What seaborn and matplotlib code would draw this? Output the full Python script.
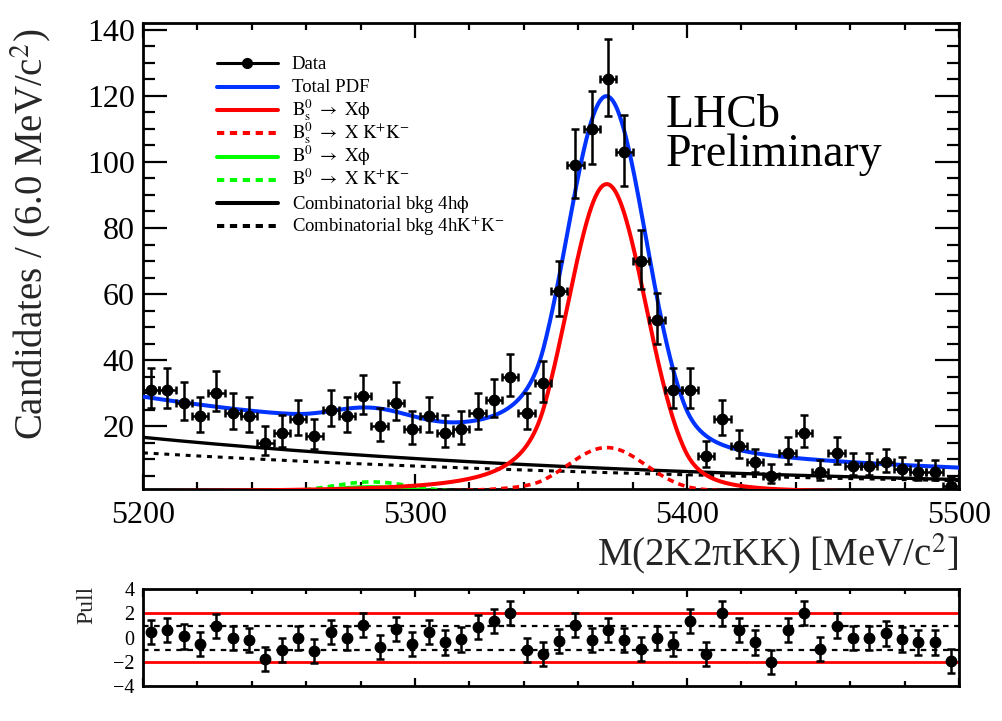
import numpy as np
import pandas as pd
import matplotlib
matplotlib.use("Agg")
import matplotlib.pyplot as plt
import seaborn as sns
from matplotlib.lines import Line2D
from matplotlib.ticker import MultipleLocator, FixedLocator, NullFormatter

# ---------------- data ----------------
mass_min, mass_max, bin_width = 5200.0, 5500.0, 6.0
counts = [31, 31, 27, 23, 30, 24, 23, 15, 18, 22,
          17, 25, 23, 29, 20, 27, 19, 23, 18, 19,
          24, 28, 35, 24, 33, 61, 99, 110, 125, 103,
          70, 52, 31, 31, 11, 22, 14, 9, 5, 12,
          18, 6, 12, 8, 8, 9, 7, 6, 6, 2]
pulls = [0.5, 0.65, 0.1, -0.5, 0.95, 0.0, -0.2, -1.75, -1.0, -0.05,
         -1.1, 0.45, -0.05, 1.05, -0.75, 0.7, -0.55, 0.5, -0.4, -0.15,
         0.85, 1.35, 2.05, -1.0, -1.35, -0.25, 1.05, -0.2, 0.65, -0.2,
         -0.95, -0.05, -0.5, 1.4, -1.35, 2.0, 0.65, -0.4, -2.0, 0.65,
         2.05, -0.95, 1.0, -0.05, -0.05, 0.35, -0.15, -0.4, -0.4, -1.95]
x_ticks = [5200, 5300, 5400, 5500]
y_ticks = [20, 40, 60, 80, 100, 120, 140]
pull_ticks = [-4, -2, 0, 2, 4]

# fit-model parameters (peak heights in candidates/bin)
mu_bs = 5370.5
mu_b0 = 5284.0
sigma_peak = 14.4
tail_left = (1.6, 2.0)
tail_right = (2.0, 2.5)
peak_bs_phi = 93.3
peak_bs_kk = 13.5
peak_b0_phi = 1.6
peak_b0_kk = 3.1
comb_phi = (16.6, 0.0049)   # value at 5200, slope
comb_kk = (11.9, 0.0041)

legend_labels = [
    "Data",
    "Total PDF",
    r"$\mathrm{B_s^0\ \rightarrow\ X\phi}$",
    r"$\mathrm{B_s^0\ \rightarrow\ X\ K^{+}K^{-}}$",
    r"$\mathrm{B^0\ \rightarrow\ X\phi}$",
    r"$\mathrm{B^0\ \rightarrow\ X\ K^{+}K^{-}}$",
    r"Combinatorial bkg 4h$\mathrm{\phi}$",
    r"Combinatorial bkg 4hK$^{+}$K$^{-}$",
]

# ---------------- style ----------------
sns.set_theme(style="ticks")
plt.rcParams["font.family"] = ["Liberation Serif", "DejaVu Serif"]
plt.rcParams["mathtext.fontset"] = "stix"
plt.rcParams["axes.unicode_minus"] = True

W, H = 1003, 721
fig = plt.figure(figsize=(W / 100, H / 100), dpi=100)
fig.patch.set_facecolor("white")

def fx(px):
    return px / W

def fy(py):
    return 1 - py / H

ax = fig.add_axes([fx(143), fy(488.5), fx(959) - fx(143), fy(23.3) - fy(488.5)])
axp = fig.add_axes([fx(143), fy(686), fx(959) - fx(143), fy(589.3) - fy(686)])
for a in (ax, axp):
    a.set_facecolor("white")
    for s in a.spines.values():
        s.set_linewidth(2.0)
        s.set_color("black")

# ---------------- model ----------------
def peak_shape(m, mu):
    t = (m - mu) / sigma_peak
    out = np.exp(-0.5 * t * t)
    aL, nL = tail_left
    aR, nR = tail_right
    AL = (nL / aL) ** nL * np.exp(-0.5 * aL * aL)
    BL = nL / aL - aL
    AR = (nR / aR) ** nR * np.exp(-0.5 * aR * aR)
    BR = nR / aR - aR
    l = t < -aL
    r = t > aR
    out[l] = AL * (BL - t[l]) ** (-nL)
    out[r] = AR * (BR + t[r]) ** (-nR)
    return out

m = np.linspace(mass_min, mass_max, 1201)
c_bs_phi = peak_bs_phi * peak_shape(m, mu_bs)
c_bs_kk = peak_bs_kk * peak_shape(m, mu_bs)
c_b0_phi = peak_b0_phi * peak_shape(m, mu_b0)
c_b0_kk = peak_b0_kk * peak_shape(m, mu_b0)
c_comb_phi = comb_phi[0] * np.exp(-comb_phi[1] * (m - mass_min))
c_comb_kk = comb_kk[0] * np.exp(-comb_kk[1] * (m - mass_min))
c_total = c_bs_phi + c_bs_kk + c_b0_phi + c_b0_kk + c_comb_phi + c_comb_kk

RED = "#ff0000"
BLUE = "#0033ff"
GREEN = "#00ff00"
dash_red = (0, (1.8, 1.4))
dash_blk = (0, (1.6, 1.9))

styles = [
    (c_comb_kk, "black", 2.2, dash_blk),
    (c_comb_phi, "black", 2.4, "-"),
    (c_b0_kk, GREEN, 2.6, dash_red),
    (c_b0_phi, GREEN, 2.6, "-"),
    (c_bs_kk, RED, 2.6, dash_red),
    (c_bs_phi, RED, 2.9, "-"),
    (c_total, BLUE, 2.9, "-"),
]
for curve, col, lw, ls in styles:
    sns.lineplot(x=m, y=curve, ax=ax, color=col, linewidth=lw, linestyle=ls,
                 sort=False, estimator=None, legend=False, zorder=3)

# ---------------- data ----------------
centers = mass_min + bin_width * (np.arange(len(counts)) + 0.5)
N = np.array(counts, dtype=float)
err_hi = np.sqrt(N + 0.75) + 1.0
err_lo = N - N * (1 - 1 / (9 * N) - 1 / (3 * np.sqrt(N))) ** 3
ax.errorbar(centers, N, xerr=bin_width / 2, yerr=[err_lo, err_hi], fmt="o",
            color="black", ms=7.5, lw=1.8, capsize=3, capthick=1.8, zorder=5)

ax.set_xlim(mass_min, mass_max)
ax.set_ylim(1.1, 142)
ax.xaxis.set_major_locator(FixedLocator(x_ticks))
ax.xaxis.set_minor_locator(MultipleLocator(20))
ax.yaxis.set_major_locator(FixedLocator(y_ticks))
ax.yaxis.set_minor_locator(MultipleLocator(5))
ax.tick_params(axis="both", which="both", direction="in", top=True, right=True,
               width=1.6, color="black", labelsize=23, labelcolor="black")
ax.tick_params(axis="x", which="major", length=11, pad=9)
ax.tick_params(axis="x", which="minor", length=5)
ax.tick_params(axis="y", which="major", length=17, pad=6)
ax.tick_params(axis="y", which="minor", length=8.5)
ax.set_xlabel("M(2K2πKK) [MeV/c$^{2}$]", fontsize=28, loc="right")
ax.xaxis.set_label_coords(1.0, -0.092)
ax.set_ylabel("Candidates / (6.0 MeV/c$^{2}$)", fontsize=28, loc="top")
ax.yaxis.set_label_coords(-0.11, 0.989)

# ---------------- legend (manual, uniform rows) ----------------
handles = [
    ("black", 2.2, "-", True),
    (BLUE, 2.9, "-", False),
    (RED, 2.9, "-", False),
    (RED, 2.9, dash_red, False),
    (GREEN, 2.9, "-", False),
    (GREEN, 2.9, dash_red, False),
    ("black", 2.9, "-", False),
    ("black", 2.9, dash_red, False),
]
hx0, hx1, tx = 216.7, 278.3, 291.7
for k, ((col, lw, ls, mk), lab) in enumerate(zip(handles, legend_labels)):
    yc = 63.3 + 23.3 * k
    fig.add_artist(Line2D([fx(hx0), fx(hx1)], [fy(yc), fy(yc)], color=col, lw=lw,
                          linestyle=ls, transform=fig.transFigure))
    if mk:
        fig.add_artist(Line2D([fx((hx0 + hx1) / 2)], [fy(yc)], color="black", marker="o",
                              ms=7, linestyle="none", transform=fig.transFigure))
    fig.text(fx(tx), fy(yc + 5.5), lab, fontsize=13.5, va="baseline", ha="left", color="black")

fig.text(fx(666), fy(126.7), "LHCb", fontsize=33, va="baseline", ha="left", color="black")
fig.text(fx(666), fy(166), "Preliminary", fontsize=33, va="baseline", ha="left", color="black")

# ---------------- pull panel ----------------
axp.axhline(2, color=RED, lw=2.0, zorder=2)
axp.axhline(-2, color=RED, lw=2.0, zorder=2)
axp.axhline(1, color="black", lw=1.6, linestyle=(0, (2.5, 2.5)), zorder=2)
axp.axhline(-1, color="black", lw=1.6, linestyle=(0, (2.5, 2.5)), zorder=2)
axp.errorbar(centers, pulls, yerr=1.0, fmt="o", color="black", ms=7.5, lw=1.8,
             capsize=3, capthick=1.8, zorder=5)
axp.set_xlim(mass_min, mass_max)
axp.set_ylim(-4, 4)
axp.xaxis.set_major_locator(FixedLocator(x_ticks))
axp.xaxis.set_minor_locator(MultipleLocator(20))
axp.xaxis.set_major_formatter(NullFormatter())
axp.yaxis.set_major_locator(FixedLocator(pull_ticks))
axp.tick_params(axis="x", which="both", direction="in", top=True, bottom=True,
                width=1.6, color="black")
axp.tick_params(axis="x", which="major", length=6)
axp.tick_params(axis="x", which="minor", length=3.5)
axp.tick_params(axis="y", which="major", length=0, labelsize=14.5, pad=6, labelcolor="black")
axp.set_ylabel("Pull", fontsize=17, loc="top")
axp.yaxis.set_label_coords(-0.056, 1.04)
axp.set_xlabel("")

fig.savefig("out.png", dpi=100)
